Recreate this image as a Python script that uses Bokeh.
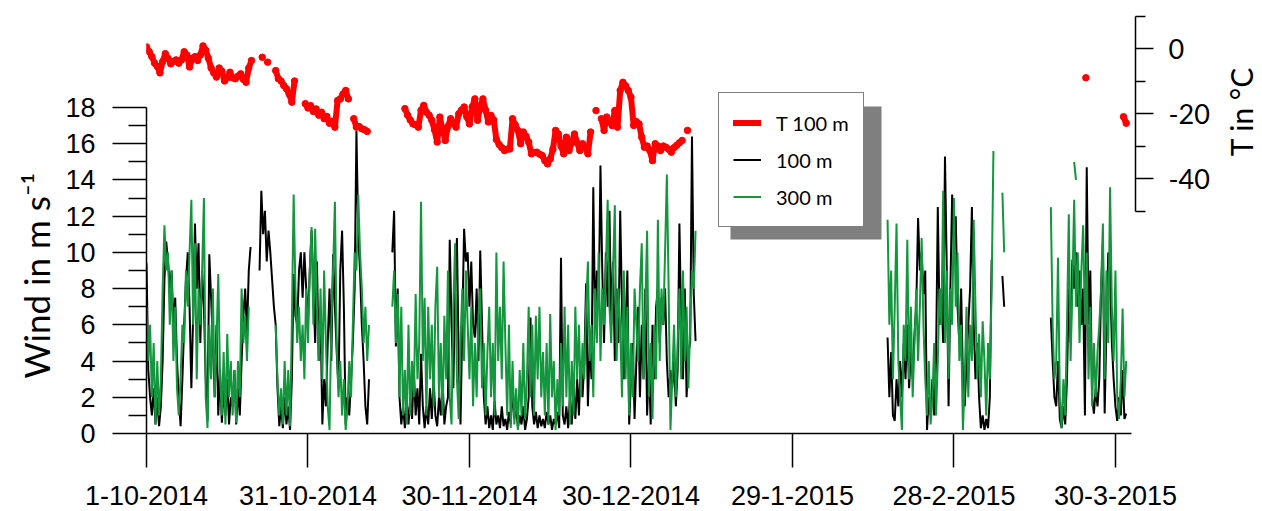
import math
import numpy as np
from bokeh.plotting import figure
from bokeh.models import (Range1d, LinearAxis, FixedTicker, Legend, LegendItem,
                          BoxAnnotation, Title, Label)
from bokeh.embed import file_html
from bokeh.resources import INLINE

# ---------------- data (x = days since 1-10-2014) ----------------
tick_days = [0, 30, 60, 90, 120, 150, 180]
tick_labels = ["1-10-2014", "31-10-2014", "30-11-2014", "30-12-2014",
               "29-1-2015", "28-2-2015", "30-3-2015"]
wind_ticks = [0, 2, 4, 6, 8, 10, 12, 14, 16, 18]
temp_ticks = [-40, -20, 0]
temp_tick_labels = ["-40", "-20", "0"]

WIND_STEP = 1.0 / 3.0   # 8-hourly values
TEMP_STEP = 0.5         # 12-hourly values

# wind speed at 100 m (m/s), segments: (start day, values)
w100_a_start = 0.0
w100_a = [9.4, 3.5, 2.0, 1.0, 2.5, 0.5, 2.0, 0.4, 1.5, 4.0, 8.5, 10.6,
          9.5, 8.0, 9.0, 6.0, 7.5, 4.0, 2.0, 0.4, 3.0, 6.0, 8.5, 10.0,
          7.0, 2.5, 6.5, 11.6, 8.0, 10.5, 5.0, 9.0, 7.0, 3.0, 0.7, 9.9,
          7.5, 5.0, 2.0, 6.0, 1.0, 3.5, 0.6, 2.5, 1.0, 3.0, 0.5, 2.0,
          1.5, 3.5, 0.5, 2.5, 1.0, 4.0, 6.5, 8.0, 5.5, 9.0, 10.3]
w100_b_start = 21.0
w100_b = [9.0, 13.4, 11.0, 12.3, 9.5, 11.2, 10.0, 8.5, 7.0, 6.0, 2.5, 0.4,
          1.5, 0.3, 2.0, 0.5, 1.5, 0.2, 3.0, 8.8, 6.5, 6.0, 9.0, 10.0,
          7.5, 10.0, 8.0, 6.2, 9.0, 11.2, 8.0, 5.0, 9.5, 4.0, 6.5, 0.5,
          3.0, 1.5, 5.0, 8.0, 4.0, 9.9, 7.0, 4.5, 2.5, 9.0, 11.2, 7.0,
          0.5, 2.0, 1.0, 3.0, 5.0, 8.0, 16.7, 11.0, 9.0, 6.0, 4.0, 1.5,
          0.5, 3.0]
w100_c_start = 45.0 + 2.0 / 3.0
w100_c = [10.0,
          12.3, 4.8, 8.0, 2.0, 0.5, 1.5, 0.3, 1.8, 0.5, 2.0, 0.8, 3.5,
          1.0, 2.5, 0.5, 4.4, 1.5, 0.3, 1.5, 0.5, 2.5, 0.8, 3.0, 1.0,
          0.4, 2.0, 1.0, 3.0, 0.5, 1.5, 2.0, 10.7, 6.0, 2.5, 8.0, 10.8,
          4.0, 0.5, 6.0, 11.3, 9.5, 10.0, 7.0, 9.5, 6.0, 5.3, 8.0, 4.0,
          10.1, 6.0, 2.0, 0.5, 1.5, 0.3, 1.0, 0.2, 1.8, 0.5, 1.0, 0.3,
          1.5, 0.4, 0.8, 0.2, 1.2, 0.5, 2.5, 0.8, 1.5, 0.3, 1.0, 0.5,
          1.5, 0.2, 0.8, 2.0, 6.4, 1.5, 0.5, 1.2, 0.3, 1.0, 0.4, 0.8,
          0.3, 1.2, 0.5, 1.0, 0.2, 0.8, 0.5, 1.2, 0.3, 9.7, 1.0, 0.5,
          1.5, 0.3, 2.0, 0.5, 2.5, 0.8, 3.0, 1.0, 4.0, 2.0, 4.0, 8.3,
          1.5, 5.0, 3.0, 13.6, 6.0, 9.0, 7.0, 14.8, 9.0, 5.0, 10.0, 7.0,
          12.3, 6.0, 9.5, 4.0, 8.0, 5.0, 12.3, 7.0, 3.0, 6.0, 9.0, 0.5,
          3.0, 5.0, 0.8, 4.0, 7.0, 2.0, 6.0, 3.0, 8.0, 1.0, 4.0, 0.5,
          6.0, 3.0, 7.0, 8.0, 5.0, 7.5, 6.0, 8.0, 4.0, 2.0, 3.5, 2.5,
          4.0, 1.5, 3.5, 11.6, 6.0, 3.0, 8.0, 2.0, 4.5, 5.0, 16.4, 7.7,
          5.1]
w100_d_start = 137.0 + 2.0 / 3.0
w100_d = [5.3,
          2.0, 4.5, 1.0, 0.7, 3.0, 1.5, 4.0, 2.0, 5.0, 3.0, 6.0, 2.5,
          4.5, 3.0, 5.5, 7.0, 11.9, 9.0, 10.0, 7.7, 9.0, 0.2, 2.0, 1.0,
          3.0, 1.0, 4.0, 12.5, 6.0, 8.0, 5.0, 15.3, 9.0, 1.5, 8.0, 13.2,
          10.0, 12.0, 7.0, 5.0, 8.0, 3.0, 1.5, 4.0, 6.0, 8.0, 12.5, 6.0,
          3.0, 5.0, 2.0, 0.3, 1.0, 0.2, 0.8, 0.3, 2.0, 9.6]
w100_e_start = 159.0
w100_e = [8.7, 7.0]
w100_f_start = 168.0
w100_f = [6.4, 4.0, 2.0, 1.5, 4.0, 0.8, 0.3, 1.5, 0.5, 3.0, 8.0, 5.0,
          9.6, 8.0, 10.0, 7.0, 9.0, 6.0, 8.0, 1.0, 14.7, 6.0, 9.0, 2.0,
          1.1, 2.5, 1.5, 3.0, 8.0, 10.5, 1.1, 6.0, 10.0, 9.0, 5.0, 3.0,
          1.5, 0.7, 2.0, 1.0, 3.5, 0.8, 1.1]

# wind speed at 300 m (m/s)
w300_a_start = 0.0
w300_a = [7.0, 4.0, 6.0, 2.0, 5.0, 0.5, 4.0, 1.0, 3.0, 8.0, 11.5, 9.0,
          10.0, 6.0, 9.0, 4.0, 7.0, 2.5, 1.0, 3.0, 6.0, 5.0, 9.0, 7.0,
          10.0, 12.9, 6.0, 10.5, 3.0, 8.0, 6.0, 9.0, 13.0, 2.0, 0.3, 6.0,
          3.0, 8.0, 2.0, 5.0, 8.8, 3.0, 1.0, 4.5, 0.5, 5.5, 2.0, 4.0,
          1.0, 3.5, 0.6, 4.0, 2.0, 8.0, 5.0, 6.5, 4.0, 7.0]
w300_b_start = 24.0
w300_b = [6.0, 3.0, 1.0, 2.5, 0.5, 4.0, 1.0, 3.5, 0.4, 6.0, 13.2, 8.0,
          5.0, 7.0, 4.0, 6.0, 3.0, 8.0, 5.0, 9.0, 11.4, 6.0, 11.3, 7.0,
          4.0, 8.0, 3.0, 9.0, 5.0, 1.5, 0.2, 6.0, 9.0, 12.8, 5.0, 2.0,
          4.0, 1.0, 3.0, 0.2, 1.5, 4.0, 2.0, 6.0, 10.0, 9.0, 13.2, 10.0,
          8.0, 5.0, 7.0, 4.0, 6.0]
w300_c_start = 45.0 + 2.0 / 3.0
w300_c = [7.0,
          9.0, 5.0, 7.7, 2.0, 7.0, 1.0, 3.5, 0.5, 6.0, 1.0, 4.0, 2.0,
          7.7, 3.0, 5.0, 12.8, 4.0, 7.5, 1.0, 7.0, 3.0, 6.0, 1.5, 7.0,
          9.2, 2.0, 5.0, 1.0, 6.5, 3.0, 9.0, 2.0, 0.5, 7.0, 10.5, 3.0,
          0.8, 5.0, 8.0, 4.0, 9.0, 6.0, 3.0, 7.0, 1.5, 5.0, 2.0, 6.5,
          8.0, 2.5, 5.0, 1.0, 4.5, 7.0, 2.0, 5.0, 1.0, 10.0, 4.0, 7.0,
          3.0, 9.5, 5.0, 1.0, 6.0, 0.3, 4.0, 0.5, 2.5, 0.2, 3.5, 1.0,
          5.0, 0.8, 3.0, 7.0, 2.0, 6.0, 1.0, 6.5, 3.0, 7.0, 2.0, 4.5,
          1.0, 5.0, 0.5, 6.6, 2.0, 4.0, 0.2, 3.0, 1.0, 5.0, 1.5, 7.0,
          2.0, 6.0, 0.5, 4.0, 1.0, 7.0, 3.0, 6.0, 2.0, 5.0, 3.0, 7.0,
          9.5, 4.0, 6.0, 2.0, 8.0, 5.0, 10.0, 4.0, 8.0, 6.0, 9.0, 12.9,
          7.0, 5.0, 9.0, 12.6, 4.0, 8.0, 6.0, 2.0, 9.0, 3.0, 7.0, 1.0,
          5.0, 2.0, 8.0, 6.0, 4.0, 8.0, 10.5, 3.0, 7.0, 11.2, 2.0, 5.0,
          0.8, 6.0, 3.0, 11.8, 4.0, 8.0, 6.0, 10.0, 14.3, 8.0, 0.2, 3.0,
          6.0, 2.0, 5.0, 8.0, 3.0, 9.0, 4.0, 7.0, 2.5, 6.0, 9.0, 8.0,
          11.2]
w300_d_start = 137.0 + 2.0 / 3.0
w300_d = [11.8,
          6.0, 9.0, 3.0, 7.0, 11.6, 4.0, 2.0, 0.2, 6.0, 4.0, 10.7, 3.0,
          7.0, 2.0, 5.0, 8.0, 4.0, 7.0, 10.8, 6.0, 3.0, 1.0, 4.0, 0.5,
          2.0, 5.0, 1.0, 4.0, 8.0, 6.0, 13.4, 5.0, 9.0, 3.0, 8.0, 6.0,
          13.0, 7.0, 10.0, 4.0, 6.0, 0.2, 3.0, 7.0, 2.0, 6.0, 4.0, 11.8,
          7.0, 3.0, 5.5, 2.0, 6.2, 4.0, 1.0, 5.0, 3.0, 8.0, 15.6]
w300_e_start = 159.0
w300_e = [13.3, 10.0]
w300_f_start = 168.0
w300_f = [12.5, 6.0, 3.0, 4.0, 9.7, 2.0, 0.3, 3.0, 1.0, 6.0, 12.1, 4.0,
          8.0, 12.9, 7.0, 10.0, 5.0, 9.0, 11.5, 6.0, 10.0, 3.0, 7.0, 1.5,
          5.0, 2.0, 4.5, 6.0, 8.0, 11.6, 3.0, 9.0, 5.0, 13.6, 7.0, 4.0,
          9.0, 2.0, 0.8, 3.0, 6.9, 2.0, 4.0]
w300_g_start = 172.0 + 1.0 / 3.0
w300_g = [15.0, 14.0]

# temperature at 100 m (deg C)
t100_a_start = 0.0
t100_a = [0.5, -1.0, -2.5, -4.5, -5.5, -7.5, -4.0, -1.6, -3.0, -4.7,
          -4.0, -3.5, -4.5, -3.5, -1.0, -2.0, -5.7, -3.0, -2.5, -3.7,
          -2.0, 0.8, -0.5, -3.0, -6.0, -7.5, -8.8, -6.0, -7.0, -10.0,
          -9.0, -7.3, -9.0, -9.3, -8.5, -7.8, -9.5, -10.4, -6.0, -3.7]
t100_b_start = 21.5
t100_b = [-2.7]
t100_c_start = 22.5
t100_c = [-4.2]
t100_d_start = 24.0
t100_d = [-6.8, -9.3, -10.0, -11.4, -12.4, -14.0, -16.5, -10.0]
t100_e_start = 29.5
t100_e = [-17.0, -18.3, -17.6, -19.4, -18.6, -20.5, -19.6, -21.6, -20.9,
          -23.0, -22.4, -24.2, -16.0, -15.5, -14.0, -12.9, -15.5]
t100_f_start = 38.5
t100_f = [-21.6, -24.2, -24.0, -24.7, -25.0, -25.5]
t100_g_start = 48.0
t100_g = [-18.5, -20.5, -22.0, -23.2, -23.5, -24.2, -19.0, -17.5, -19.6,
          -20.5, -22.1, -25.0, -28.8, -21.1, -25.0, -28.3, -24.0, -21.6,
          -23.0, -24.2, -20.1, -19.0, -18.0, -21.0, -23.2, -18.0, -15.5,
          -22.1, -18.0, -15.5, -19.0, -22.6, -20.6, -22.0, -28.0, -29.5,
          -30.5, -31.4, -31.0, -30.9, -21.6, -23.5, -25.2, -29.3, -25.7,
          -27.0, -28.8, -32.4, -32.0, -31.9, -32.5, -32.9, -34.5, -35.5,
          -34.0, -31.0, -25.2, -26.3, -30.0, -32.4, -27.3, -31.4, -29.0,
          -26.3, -29.0, -31.4, -29.3, -30.5, -32.4, -25.7]
t100_h_start = 83.5
t100_h = [-19.1]
t100_i_start = 84.5
t100_i = [-21.6, -25.2, -21.1, -22.5, -23.7, -19.1, -24.2, -12.9, -10.4,
          -11.5, -12.9, -15.0, -23.7, -22.5, -23.2, -27.3, -30.4, -30.0,
          -31.4, -34.5, -29.3, -30.0, -31.4, -30.0, -30.4, -31.0, -31.9,
          -30.5, -29.8, -29.0, -28.3]
t100_j_start = 100.5
t100_j = [-25.2]
t100_k_start = 174.5
t100_k = [-9.0]
t100_l_start = 181.5
t100_l = [-21.0, -23.0]


def build(segments, step):
    xs, ys = [], []
    for start, vals in segments:
        for i, v in enumerate(vals):
            xs.append(start + i * step)
            ys.append(v)
        xs.append(np.nan)
        ys.append(np.nan)
    return xs, ys


x100, y100 = build([(w100_a_start, w100_a), (w100_b_start, w100_b), (w100_c_start, w100_c),
                    (w100_d_start, w100_d), (w100_e_start, w100_e), (w100_f_start, w100_f)], WIND_STEP)
x300, y300 = build([(w300_a_start, w300_a), (w300_b_start, w300_b), (w300_c_start, w300_c),
                    (w300_d_start, w300_d), (w300_e_start, w300_e), (w300_f_start, w300_f),
                    (w300_g_start, w300_g)], WIND_STEP)
xt, yt = build([(t100_a_start, t100_a), (t100_b_start, t100_b), (t100_c_start, t100_c),
                (t100_d_start, t100_d), (t100_e_start, t100_e), (t100_f_start, t100_f),
                (t100_g_start, t100_g), (t100_h_start, t100_h), (t100_i_start, t100_i),
                (t100_j_start, t100_j), (t100_k_start, t100_k), (t100_l_start, t100_l)], TEMP_STEP)

# ---------------- layout ----------------
W, H = 1262, 511
FL, FT, FB = 146, 10, 433      # frame left / top / bottom in pixels
FR = W                         # frame runs to the right edge
AX_R = 1135                    # x position of the temperature axis
PX_PER_DAY = 5.383
PX_PER_WIND = 18.11
PX_PER_DEG = 3.25
T_ZERO_PX = 48

x_end = (FR - FL) / PX_PER_DAY
wind_top = (FB - FT) / PX_PER_WIND
t_top = (T_ZERO_PX - FT) / PX_PER_DEG
t_bot = (T_ZERO_PX - FB) / PX_PER_DEG


def px_to_day(px):
    return (px - FL) / PX_PER_DAY


def px_to_wind(py):
    return (FB - py) / PX_PER_WIND


p = figure(frame_width=FR - FL, frame_height=FB - FT,
           output_backend="svg", toolbar_location=None,
           x_range=Range1d(0, x_end), y_range=Range1d(0, wind_top),
           min_border_left=FL, min_border_right=0,
           min_border_top=FT, min_border_bottom=H - FB)
p.extra_y_ranges = {"temp": Range1d(t_bot, t_top)}
p.outline_line_color = None
p.xgrid.visible = False
p.ygrid.visible = False
p.background_fill_color = "white"
p.border_fill_color = "white"

GREEN = "#13963d"
r100 = p.line(x100, y100, line_color="black", line_width=2)
r300 = p.line(x300, y300, line_color=GREEN, line_width=2)
rt = p.line(xt, yt, line_color="#ff0000", line_width=6, line_cap="round",
            line_join="round", y_range_name="temp")
p.scatter(xt, yt, size=6.5, fill_color="#ff0000", line_color="#ff0000",
          y_range_name="temp")

# x axis
xa = p.xaxis[0]
xa.ticker = FixedTicker(ticks=tick_days, minor_ticks=[])
xa.major_label_overrides = {d: lab for d, lab in zip(tick_days, tick_labels)}
xa.bounds = (0, 183)
xa.major_tick_in = 0
xa.major_tick_out = 34
xa.minor_tick_out = 0
xa.axis_line_width = 1.5
xa.major_tick_line_width = 1.5
xa.major_label_text_font = "Liberation Sans"
xa.major_label_text_font_size = "27px"
xa.major_label_text_color = "black"
xa.major_label_standoff = 18

# left axis
ya = p.yaxis[0]
ya.ticker = FixedTicker(ticks=wind_ticks, minor_ticks=list(range(1, 18, 2)))
ya.bounds = (0, 18)
ya.major_tick_in = 0
ya.major_tick_out = 34
ya.minor_tick_in = 0
ya.minor_tick_out = 18
ya.axis_line_width = 1.5
ya.major_tick_line_width = 1.5
ya.minor_tick_line_width = 1.5
ya.major_label_text_font = "Liberation Sans"
ya.major_label_text_font_size = "27px"
ya.major_label_text_color = "black"
ya.major_label_standoff = 17

# right axis (temperature), pinned at AX_R
ra = LinearAxis(y_range_name="temp", fixed_location=px_to_day(AX_R))
ra.ticker = FixedTicker(ticks=temp_ticks, minor_ticks=[-50, -30, -10, 10])
ra.major_label_overrides = {t: lab for t, lab in zip(temp_ticks, temp_tick_labels)}
ra.bounds = (-50, 10)
ra.major_tick_in = 0
ra.major_tick_out = 18
ra.minor_tick_in = 0
ra.minor_tick_out = 10
ra.axis_line_width = 1.5
ra.major_tick_line_width = 1.5
ra.minor_tick_line_width = 1.5
ra.major_label_text_font = "Lato"
ra.major_label_text_font_size = "27px"
ra.major_label_text_color = "black"
ra.major_label_standoff = 15
p.add_layout(ra, "right")

# axis titles
left_title = Title(text="Wind in m s\u207b\u00b9", align="left", offset=55,
                   text_font="Lato", text_font_size="35px", text_font_style="normal",
                   text_color="black", standoff=12)
p.add_layout(left_title, "left")

p.add_layout(Label(x=px_to_day(1240), y=px_to_wind(111), text="T in \u00b0C",
                   angle=math.pi / 2, text_align="center", text_baseline="middle",
                   text_font="Lato", text_font_size="30px", text_color="black"))

# legend with drop shadow
LEG_L, LEG_T, LEG_R, LEG_B = 718, 94, 869, 227
SHADOW = 12

shadow = BoxAnnotation(left=px_to_day(LEG_L + SHADOW), right=px_to_day(LEG_R + SHADOW),
                       top=px_to_wind(LEG_T + SHADOW), bottom=px_to_wind(LEG_B + SHADOW),
                       fill_color="#7f7f7f", fill_alpha=1.0, line_color=None)
p.add_layout(shadow)

legend = Legend(items=[LegendItem(label="T 100 m", renderers=[rt]),
                       LegendItem(label="100 m", renderers=[r100]),
                       LegendItem(label="300 m", renderers=[r300])],
                location=(LEG_L - FL, FB - LEG_B), margin=0, padding=14,
                spacing=6, label_height=31, glyph_height=31, glyph_width=28,
                label_standoff=15, label_text_font="Lato",
                label_text_font_size="20px", label_text_color="black",
                border_line_color="black", border_line_width=1.5,
                background_fill_color="white", background_fill_alpha=1.0)
p.add_layout(legend)

open("out.html", "w").write(file_html(p, INLINE))
